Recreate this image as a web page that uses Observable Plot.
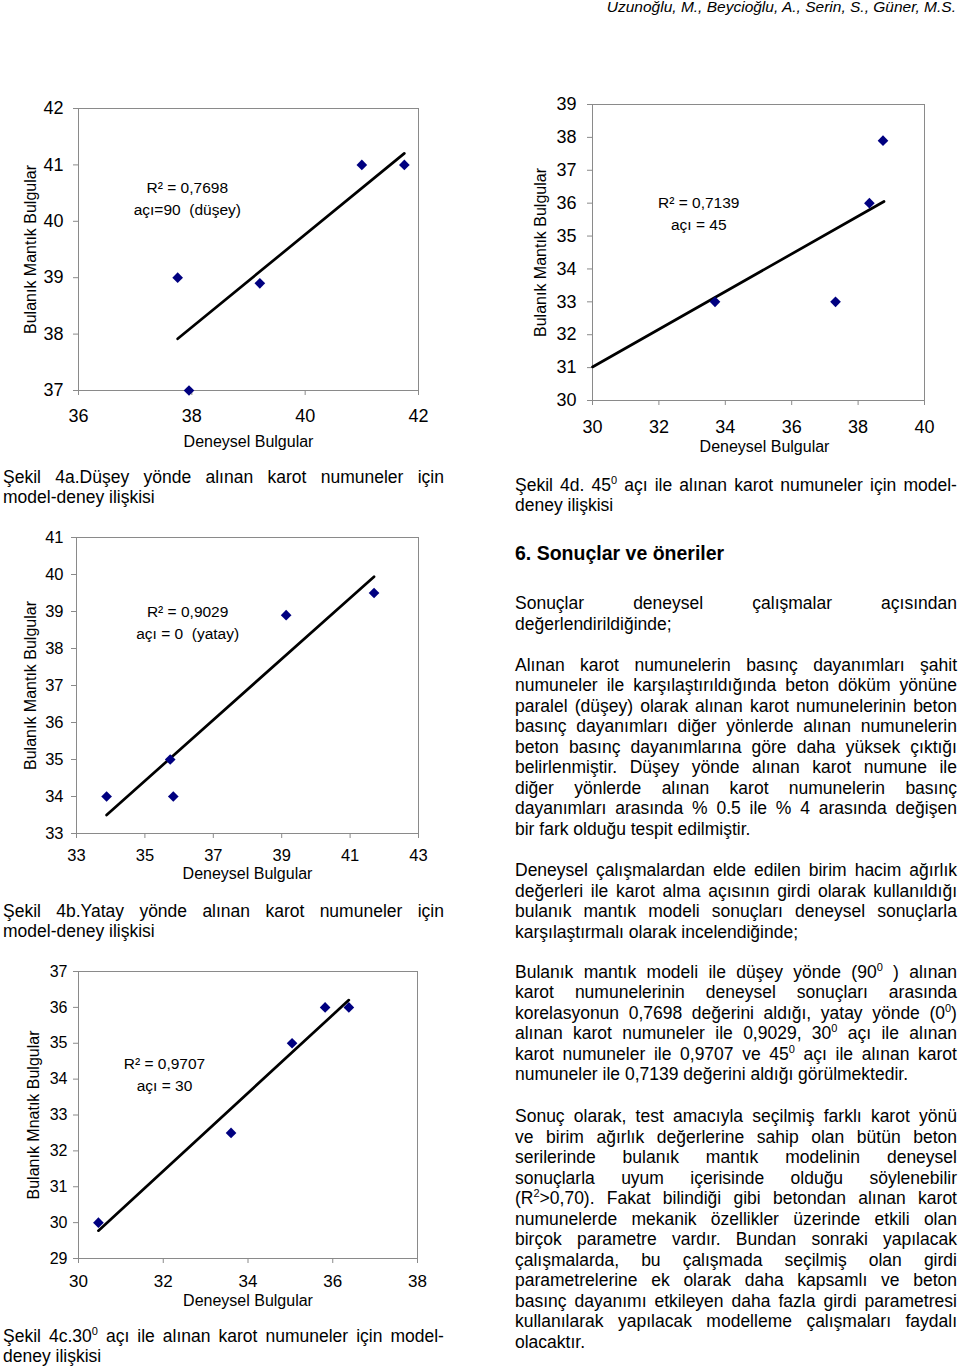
<!DOCTYPE html>
<html><head><meta charset="utf-8">
<script src="https://cdn.jsdelivr.net/npm/d3@7"></script>
<script src="https://cdn.jsdelivr.net/npm/@observablehq/plot@0.6"></script>
<style>
html,body{margin:0;padding:0;background:#fff}
body{width:960px;height:1368px;position:relative;overflow:hidden;font-family:"Liberation Sans",Arial,sans-serif;color:#000}
.ch{position:absolute}
.ln{position:absolute;height:20px;line-height:20px;font-size:17.5px;white-space:nowrap}
.j{display:flex;justify-content:space-between}
.ln sup{font-size:11px;vertical-align:baseline;position:relative;top:-7px;line-height:0}
.hd{position:absolute;right:4px;top:-2px;font-size:15.5px;font-style:italic;line-height:18px;white-space:nowrap}
.h2{position:absolute;font-weight:bold;font-size:19.5px;line-height:22px;white-space:nowrap}
</style></head><body>
<div class="hd">Uzunoğlu, M., Beycioğlu, A., Serin, S., Güner, M.S.</div>
<script>
// ---- data ----
// Şekil 4a : 90° (düşey)
const exp4a = [37.75, 37.95, 39.2, 41.0, 41.75];
const fuz4a = [39.0, 37.0, 38.9, 41.0, 41.0];
// Şekil 4b : 0° (yatay)
const exp4b = [33.88, 35.74, 35.83, 39.13, 41.7];
const fuz4b = [34.0, 35.0, 34.0, 38.9, 39.5];
// Şekil 4c : 30°
const exp4c = [30.47, 33.6, 35.04, 35.82, 36.38];
const fuz4c = [30.0, 32.5, 35.0, 36.0, 36.0];
// Şekil 4d : 45°
const exp4d = [33.69, 37.32, 38.34, 38.75];
const fuz4d = [33.0, 33.0, 36.0, 37.9];
// trend line of 4d as drawn (end points)
const trend4dX = [30, 38.78];
const trend4dY = [31.02, 36.05];

// tick labels
const xTicks4a = [36, 38, 40, 42];
const yTicks4a = [37, 38, 39, 40, 41, 42];
const xTicks4b = [33, 35, 37, 39, 41, 43];
const yTicks4b = [33, 34, 35, 36, 37, 38, 39, 40, 41];
const xTicks4c = [30, 32, 34, 36, 38];
const yTicks4c = [29, 30, 31, 32, 33, 34, 35, 36, 37];
const xTicks4d = [30, 32, 34, 36, 38, 40];
const yTicks4d = [30, 31, 32, 33, 34, 35, 36, 37, 38, 39];

const notes = {
  a: "R² = 0,7698\naçı=90 \u00a0(düşey)",
  b: "R² = 0,9029\naçı = 0 \u00a0(yatay)",
  c: "R² = 0,9707\naçı = 30",
  d: "R² = 0,7139\naçı = 45"
};
const xTitle = "Deneysel Bulgular";
const yTitles = {a: "Bulanık Mantık Bulgular", b: "Bulanık Mantık Bulgular", c: "Bulanık Mnatık Bulgular", d: "Bulanık Mantık Bulgular"};

const GRAY = "#8a8a8a";
const FONT = "Liberation Sans, Arial, sans-serif";

function chart(c) {
  const data = c.xs.map((x, i) => ({x, y: c.ys[i]}));
  const trend = c.trend
    ? Plot.line(c.trend[0].map((x, i) => ({x, y: c.trend[1][i]})), {x: "x", y: "y", stroke: "#000", strokeWidth: 2.7})
    : Plot.linearRegressionY(data, {x: "x", y: "y", stroke: "#000", strokeWidth: 2.7, ci: 0});
  const svg = Plot.plot({
    width: c.w, height: c.h,
    marginLeft: c.ml, marginRight: c.mr, marginTop: c.mt, marginBottom: c.mb,
    style: {fontFamily: FONT, color: "#000", background: "transparent", overflow: "visible"},
    x: {domain: c.xd},
    y: {domain: c.yd},
    marks: [
      Plot.frame({stroke: GRAY, strokeWidth: 1}),
      Plot.axisX({ticks: c.xt, tickSize: 5, tickPadding: c.xPad, stroke: GRAY, fill: "#000", fontSize: c.xFont ?? c.font, label: null, tickFormat: d => String(d)}),
      Plot.axisY({ticks: c.yt, tickSize: 5, tickPadding: c.yPad, stroke: GRAY, fill: "#000", fontSize: c.yFont ?? c.font, label: null, tickFormat: d => String(d)}),
      trend,
      Plot.dot(data, {x: "x", y: "y", symbol: "diamond2", r: 4.8, fill: "#000080", stroke: "none"}),
      Plot.text([c.note], {x: c.nx, y: c.ny, text: d => d, fontSize: 15.5, lineHeight: 1.42, textAnchor: "middle", lineAnchor: "middle", fill: "#000"}),
      Plot.text([xTitle], {frameAnchor: "bottom", dy: c.xtdy, dx: c.xtdx ?? 0, lineAnchor: "middle", fontSize: 16, fill: "#000", text: d => d}),
      Plot.text([c.yTitle], {frameAnchor: "left", dx: c.ytdx, rotate: -90, lineAnchor: "middle", textAnchor: "middle", fontSize: 16, fill: "#000", text: d => d})
    ]
  });
  const div = document.createElement("div");
  div.className = "ch";
  div.style.left = c.left + "px";
  div.style.top = c.top + "px";
  div.appendChild(svg);
  document.body.appendChild(div);
}

chart({left: 0, top: 90, w: 450, h: 370, ml: 78, mr: 32, mt: 18, mb: 70,
  xs: exp4a, ys: fuz4a, xd: [36, 42], yd: [37, 42], xt: xTicks4a, yt: yTicks4a,
  font: 18, xPad: 14, yPad: 10, xtdy: 51, ytdx: -48, note: notes.a, nx: 37.92, ny: 40.44, yTitle: yTitles.a});
chart({left: 0, top: 520, w: 450, h: 370, ml: 76, mr: 32, mt: 17, mb: 57,
  xs: exp4b, ys: fuz4b, xd: [33, 43], yd: [33, 41], xt: xTicks4b, yt: yTicks4b,
  font: 16.5, xPad: 11, yPad: 8, xtdy: 40, ytdx: -46, note: notes.b, nx: 36.25, ny: 38.74, yTitle: yTitles.b});
chart({left: 0, top: 955, w: 450, h: 360, ml: 78, mr: 33, mt: 16, mb: 57,
  xs: exp4c, ys: fuz4c, xd: [30, 38], yd: [29, 37], xt: xTicks4c, yt: yTicks4c,
  font: 16.5, xFont: 17, yFont: 16, xPad: 11, yPad: 6, xtdy: 42, ytdx: -45, note: notes.c, nx: 32.03, ny: 34.18, yTitle: yTitles.c});
chart({left: 500, top: 90, w: 460, h: 370, ml: 92, mr: 36, mt: 14, mb: 60,
  xs: exp4d, ys: fuz4d, xd: [30, 40], yd: [30, 39], xt: xTicks4d, yt: yTicks4d, trend: [trend4dX, trend4dY],
  font: 18, xPad: 15, yPad: 11, xtdy: 46, xtdx: 6, ytdx: -52, note: notes.d, nx: 33.2, ny: 35.74, yTitle: yTitles.d});

// ---- text blocks: [text, centerY, justified] ----
const leftText = [
  ["Şekil 4a.Düşey yönde alınan karot numuneler için", 477, true],
  ["model-deney ilişkisi", 497, false],
  ["Şekil 4b.Yatay yönde alınan karot numuneler için", 911, true],
  ["model-deney ilişkisi", 931, false],
  ["Şekil 4c.30^0 açı ile alınan karot numuneler için model-", 1336, true],
  ["deney ilişkisi", 1356, false]
];
const rightText = [
  ["Şekil 4d. 45^0 açı ile alınan karot numuneler için model-", 485, true],
  ["deney ilişkisi", 505, false],
  ["Sonuçlar deneysel çalışmalar açısından", 603, true],
  ["değerlendirildiğinde;", 624, false],
  ["Alınan karot numunelerin basınç dayanımları şahit", 665, true],
  ["numuneler ile karşılaştırıldığında beton döküm yönüne", 685.5, true],
  ["paralel (düşey) olarak alınan karot numunelerinin beton", 706, true],
  ["basınç dayanımları diğer yönlerde alınan numunelerin", 726.5, true],
  ["beton basınç dayanımlarına göre daha yüksek çıktığı", 747, true],
  ["belirlenmiştir. Düşey yönde alınan karot numune ile", 767.5, true],
  ["diğer yönlerde alınan karot numunelerin basınç", 788, true],
  ["dayanımları arasında % 0.5 ile % 4 arasında değişen", 808.5, true],
  ["bir fark olduğu tespit edilmiştir.", 829, false],
  ["Deneysel çalışmalardan elde edilen birim hacim ağırlık", 870.5, true],
  ["değerleri ile karot alma açısının girdi olarak kullanıldığı", 891, true],
  ["bulanık mantık modeli sonuçları deneysel sonuçlarla", 911.5, true],
  ["karşılaştırmalı olarak incelendiğinde;", 932, false],
  ["Bulanık mantık modeli ile düşey yönde (90^0 ) alınan", 972, true],
  ["karot numunelerinin deneysel sonuçları arasında", 992.5, true],
  ["korelasyonun 0,7698 değerini aldığı, yatay yönde (0^0)", 1013, true],
  ["alınan karot numuneler ile 0,9029, 30^0 açı ile alınan", 1033.5, true],
  ["karot numuneler ile 0,9707 ve 45^0 açı ile alınan karot", 1054, true],
  ["numuneler ile 0,7139 değerini aldığı görülmektedir.", 1074.5, false],
  ["Sonuç olarak, test amacıyla seçilmiş farklı karot yönü", 1116.5, true],
  ["ve birim ağırlık değerlerine sahip olan bütün beton", 1137, true],
  ["serilerinde bulanık mantık modelinin deneysel", 1157.5, true],
  ["sonuçlarla uyum içerisinde olduğu söylenebilir", 1178, true],
  ["(R^2>0,70). Fakat bilindiği gibi betondan alınan karot", 1198.5, true],
  ["numunelerde mekanik özellikler üzerinde etkili olan", 1219, true],
  ["birçok parametre vardır. Bundan sonraki yapılacak", 1239.5, true],
  ["çalışmalarda, bu çalışmada seçilmiş olan girdi", 1260, true],
  ["parametrelerine ek olarak daha kapsamlı ve beton", 1280.5, true],
  ["basınç dayanımı etkileyen daha fazla girdi parametresi", 1301, true],
  ["kullanılarak yapılacak modelleme çalışmaları faydalı", 1321.5, true],
  ["olacaktır.", 1342, false]
];
function esc(s) { return s.replace(/&/g, "&amp;").replace(/</g, "&lt;").replace(/>/g, "&gt;"); }
function fmt(w) { return esc(w).replace(/\^(\S)/g, "<sup>$1</sup>"); }
function place(lines, left, width) {
  for (const [t, cy, j] of lines) {
    const d = document.createElement("div");
    d.className = "ln" + (j ? " j" : "");
    d.style.left = left + "px";
    d.style.top = (cy - 10.5) + "px";
    if (j) {
      d.style.width = width + "px";
      d.innerHTML = t.split(/\s+/).map(w => "<span>" + fmt(w) + "</span>").join("");
    } else {
      d.innerHTML = t.split(" ").map(fmt).join(" ");
    }
    document.body.appendChild(d);
  }
}
place(leftText, 3, 441);
place(rightText, 515, 442);
const h = document.createElement("div");
h.className = "h2";
h.style.left = "515px";
h.style.top = (553 - 11.5) + "px";
h.textContent = "6. Sonuçlar ve öneriler";
document.body.appendChild(h);
</script>
</body></html>
